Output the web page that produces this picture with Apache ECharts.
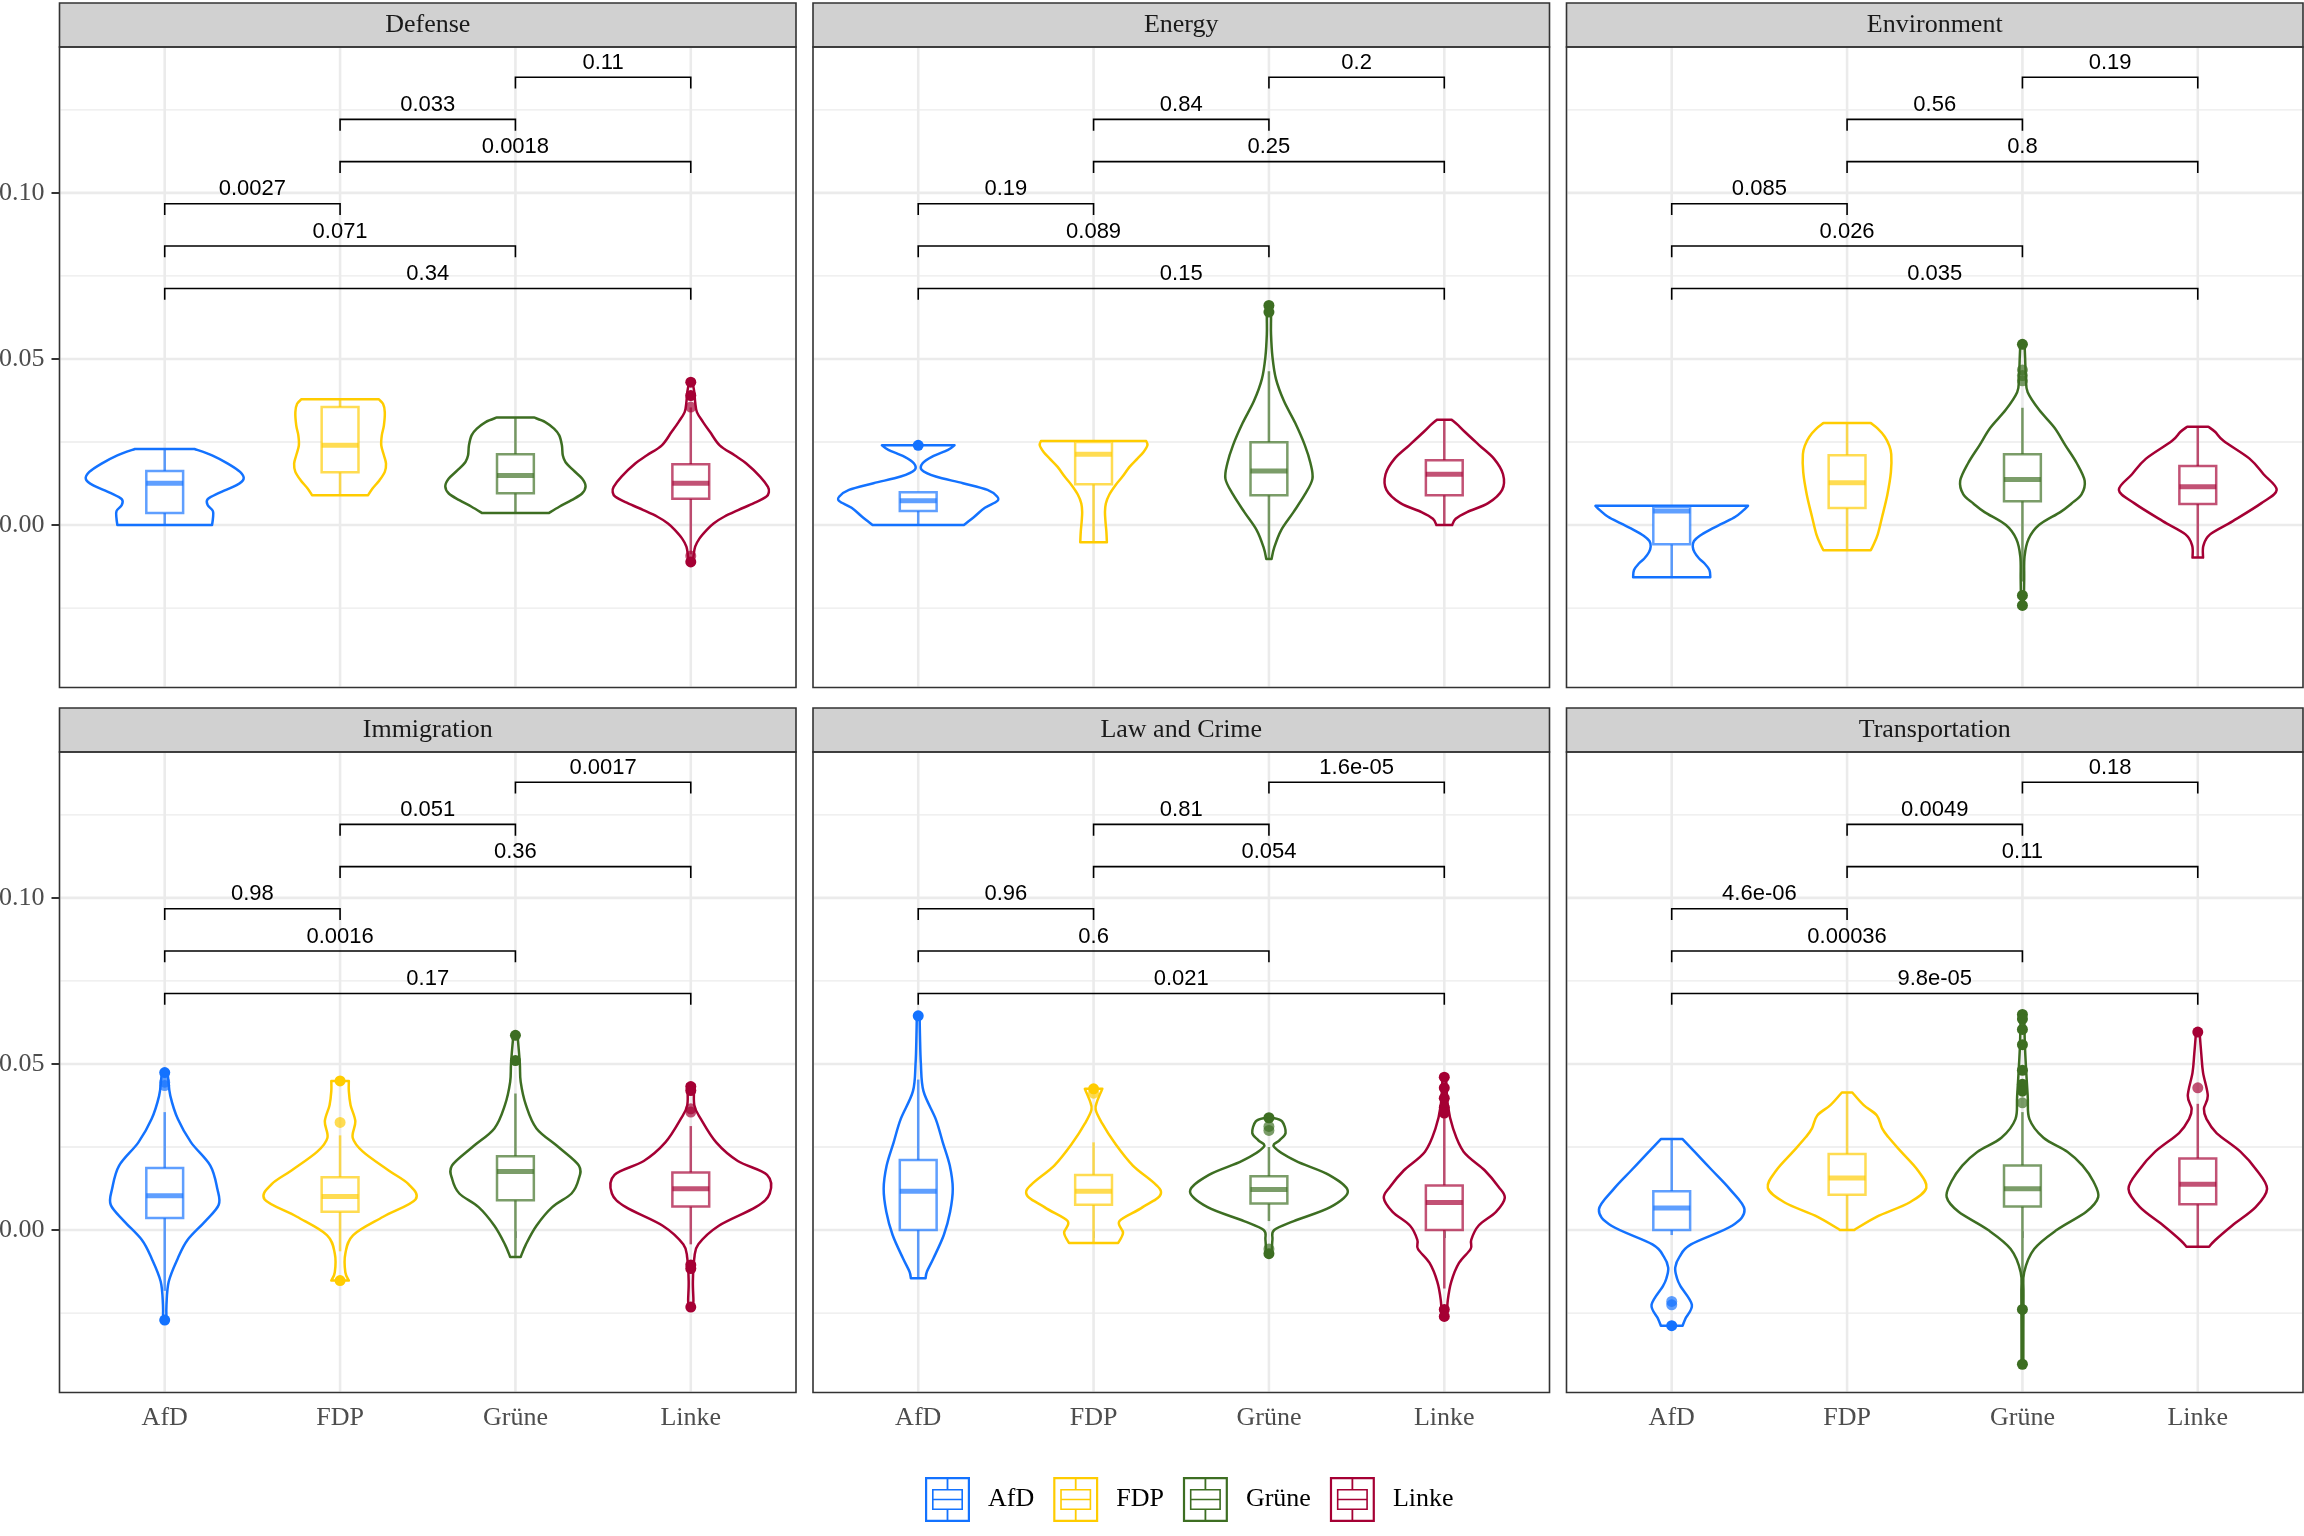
<!DOCTYPE html>
<html><head><meta charset="utf-8">
<script src="https://cdn.jsdelivr.net/npm/echarts@6/dist/echarts.min.js"></script>
<style>html,body{margin:0;padding:0;background:#fff}#c{width:2304px;height:1536px}</style>
</head><body><div id="c"></div>
<script>
// ---------------- DATA ----------------
const facets = ['Defense','Energy','Environment','Immigration','Law and Crime','Transportation'];
const parties = ['AfD','FDP','Grüne','Linke'];
const partyPos = [1,2,3,4];
const yLabelTicks = [0, 0.05, 0.10];
const yMinorTicks = [-0.025, 0.025, 0.075, 0.125];
const bracketPairs = [[3,4],[2,3],[2,4],[1,2],[1,3],[1,4]];
const bracketLevels = [0.1348,0.1221,0.1094,0.0967,0.0840,0.0712];

const pDefense = ['0.11','0.033','0.0018','0.0027','0.071','0.34'];
const pEnergy = ['0.2','0.84','0.25','0.19','0.089','0.15'];
const pEnvironment = ['0.19','0.56','0.8','0.085','0.026','0.035'];
const pImmigration = ['0.0017','0.051','0.36','0.98','0.0016','0.17'];
const pLawCrime = ['1.6e-05','0.81','0.054','0.96','0.6','0.021'];
const pTransportation = ['0.18','0.0049','0.11','4.6e-06','0.00036','9.8e-05'];

// violin outlines: [value, half-width in category units], top to bottom
const violinDefense = [
  [[0.0229,0.17],[0.021,0.27],[0.0185,0.36],[0.016,0.43],[0.0139,0.45],[0.012,0.41],[0.0097,0.31],[0.0078,0.245],[0.006,0.245],[0.0042,0.275],[0.002,0.275],[0.0,0.27]],
  [[0.0379,0.22],[0.0365,0.245],[0.034,0.255],[0.030,0.25],[0.027,0.238],[0.024,0.235],[0.021,0.25],[0.0185,0.262],[0.016,0.255],[0.0135,0.225],[0.011,0.185],[0.009,0.16]],
  [[0.0324,0.105],[0.031,0.17],[0.029,0.22],[0.027,0.25],[0.024,0.265],[0.021,0.27],[0.019,0.285],[0.0165,0.33],[0.014,0.38],[0.0117,0.4],[0.0095,0.38],[0.0075,0.32],[0.0055,0.25],[0.0036,0.19]],
  [[0.043,0.01],[0.040,0.02],[0.037,0.025],[0.034,0.035],[0.031,0.07],[0.028,0.11],[0.024,0.165],[0.021,0.25],[0.0186,0.315],[0.0146,0.395],[0.0115,0.44],[0.0099,0.445],[0.0085,0.43],[0.0066,0.36],[0.0045,0.27],[0.0025,0.19],[0.0005,0.13],[-0.0015,0.09],[-0.004,0.05],[-0.0065,0.025],[-0.0095,0.015],[-0.0111,0.01]]
];
const violinEnergy = [
  [[0.024,0.207],[0.0226,0.17],[0.0206,0.08],[0.0186,0.025],[0.0166,0.02],[0.0146,0.1],[0.0126,0.255],[0.0106,0.395],[0.0086,0.45],[0.0072,0.45],[0.0052,0.38],[0.0025,0.32],[0.0,0.26]],
  [[0.0253,0.3],[0.024,0.307],[0.022,0.285],[0.020,0.25],[0.0175,0.205],[0.0146,0.165],[0.012,0.125],[0.0092,0.09],[0.0065,0.07],[0.0039,0.065],[0.001,0.068],[-0.002,0.073],[-0.0052,0.076]],
  [[0.0661,0.012],[0.062,0.012],[0.0574,0.012],[0.0507,0.02],[0.044,0.04],[0.0374,0.085],[0.0307,0.15],[0.024,0.205],[0.0186,0.237],[0.0139,0.248],[0.0092,0.205],[0.0039,0.14],[-0.0015,0.07],[-0.0068,0.03],[-0.0102,0.015]],
  [[0.0317,0.042],[0.030,0.08],[0.028,0.118],[0.024,0.2],[0.020,0.283],[0.0153,0.335],[0.0106,0.33],[0.0066,0.25],[0.0039,0.13],[0.0019,0.065],[0.0,0.045]]
];
const violinEnvironment = [
  [[0.0058,0.435],[0.0045,0.41],[0.0025,0.363],[0.0005,0.29],[-0.0015,0.215],[-0.0032,0.16],[-0.0048,0.127],[-0.0065,0.12],[-0.0082,0.13],[-0.01,0.155],[-0.0115,0.186],[-0.0135,0.215],[-0.0157,0.22]],
  [[0.0307,0.135],[0.029,0.175],[0.0266,0.215],[0.024,0.24],[0.0213,0.252],[0.0159,0.25],[0.0092,0.23],[0.0025,0.2],[-0.0028,0.175],[-0.006,0.15],[-0.0076,0.135]],
  [[0.0544,0.012],[0.0507,0.015],[0.044,0.02],[0.040,0.03],[0.0347,0.095],[0.0293,0.183],[0.024,0.245],[0.0186,0.31],[0.0133,0.355],[0.0092,0.337],[0.0065,0.28],[0.0039,0.216],[0.0,0.094],[-0.0042,0.035],[-0.0095,0.012],[-0.0162,0.01],[-0.0242,0.008]],
  [[0.0296,0.06],[0.028,0.1],[0.0253,0.148],[0.02,0.295],[0.0153,0.375],[0.0106,0.45],[0.0066,0.363],[0.0012,0.2],[-0.0028,0.07],[-0.0062,0.032],[-0.0098,0.03]]
];
const violinImmigration = [
  [[0.048,0.015],[0.0455,0.02],[0.0404,0.032],[0.0334,0.075],[0.0264,0.15],[0.0194,0.26],[0.0124,0.3],[0.0076,0.308],[0.0027,0.232],[-0.003,0.13],[-0.0085,0.075],[-0.0155,0.023],[-0.0225,0.01],[-0.0271,0.01]],
  [[0.0449,0.05],[0.0418,0.05],[0.0376,0.06],[0.0327,0.087],[0.0278,0.072],[0.0236,0.13],[0.018,0.275],[0.0138,0.39],[0.0092,0.43],[0.004,0.246],[-0.0015,0.075],[-0.0071,0.03],[-0.0127,0.03],[-0.0152,0.05]],
  [[0.0586,0.012],[0.0502,0.025],[0.0446,0.03],[0.0376,0.06],[0.0306,0.12],[0.025,0.245],[0.0194,0.362],[0.0152,0.36],[0.011,0.32],[0.0069,0.21],[0.0013,0.12],[-0.0043,0.06],[-0.0081,0.03]],
  [[0.0439,0.02],[0.0376,0.02],[0.0334,0.058],[0.0264,0.145],[0.0208,0.268],[0.0166,0.435],[0.011,0.45],[0.0069,0.37],[0.0013,0.16],[-0.0043,0.043],[-0.0085,0.02],[-0.0155,0.012],[-0.0211,0.015],[-0.0232,0.012]]
];
const violinLawCrime = [
  [[0.0645,0.008],[0.0586,0.01],[0.0502,0.015],[0.0418,0.03],[0.0334,0.1],[0.0264,0.14],[0.0194,0.18],[0.0124,0.197],[0.0055,0.182],[-0.0015,0.146],[-0.0085,0.087],[-0.0125,0.05],[-0.0145,0.042]],
  [[0.0425,0.05],[0.039,0.022],[0.0362,0.012],[0.032,0.05],[0.0264,0.118],[0.0194,0.224],[0.0117,0.384],[0.0069,0.28],[0.0027,0.148],[-0.0008,0.168],[-0.0039,0.14]],
  [[0.0338,0.02],[0.0327,0.075],[0.0292,0.095],[0.027,0.06],[0.025,0.03],[0.0208,0.153],[0.0166,0.342],[0.0117,0.45],[0.0069,0.35],[0.0027,0.142],[0.0,0.03],[-0.0029,0.02],[-0.0078,0.015]],
  [[0.046,0.01],[0.0376,0.02],[0.0306,0.05],[0.0236,0.11],[0.018,0.23],[0.0131,0.308],[0.0097,0.345],[0.0055,0.295],[0.0013,0.195],[-0.0029,0.154],[-0.0057,0.15],[-0.0099,0.084],[-0.0155,0.04],[-0.0211,0.02],[-0.026,0.015]]
];
const violinTransportation = [
  [[0.0274,0.062],[0.0236,0.13],[0.018,0.23],[0.0124,0.33],[0.0062,0.415],[0.0013,0.344],[-0.0043,0.11],[-0.008,0.045],[-0.0113,0.02],[-0.0145,0.03],[-0.0169,0.05],[-0.0225,0.115],[-0.0267,0.078],[-0.0288,0.062]],
  [[0.0414,0.03],[0.0376,0.095],[0.0345,0.17],[0.0306,0.2],[0.028,0.235],[0.0236,0.308],[0.018,0.403],[0.0127,0.452],[0.0083,0.356],[0.004,0.168],[0.0,0.04]],
  [[0.0649,0.01],[0.0544,0.015],[0.0404,0.03],[0.0334,0.04],[0.0278,0.12],[0.0236,0.256],[0.0194,0.343],[0.0146,0.405],[0.0099,0.432],[0.0055,0.364],[0.0,0.195],[-0.0057,0.067],[-0.0127,0.01],[-0.0197,0.006],[-0.0404,0.005]],
  [[0.0596,0.01],[0.053,0.02],[0.0474,0.03],[0.0404,0.057],[0.0365,0.035],[0.0334,0.05],[0.0292,0.107],[0.0236,0.243],[0.018,0.336],[0.0124,0.395],[0.0069,0.33],[0.0013,0.195],[-0.003,0.1],[-0.005,0.065]]
];

// box stats: [lower whisker, Q1, median, Q3, upper whisker]
const boxDefense = [[0.0,0.0036,0.0126,0.0163,0.0229],[0.009,0.0159,0.024,0.0355,0.0379],[0.0036,0.0096,0.0149,0.0213,0.0324],[-0.0088,0.0079,0.0126,0.0183,0.0354]];
const boxEnergy = [[0.0,0.0042,0.0073,0.0099,0.0099],[-0.0052,0.0123,0.0213,0.025,0.0253],[-0.0102,0.009,0.0163,0.0249,0.0463],[0.0,0.009,0.0153,0.0195,0.0317]];
const boxEnvironment = [[-0.0157,-0.0058,0.0042,0.0055,0.0058],[-0.0076,0.0051,0.0127,0.021,0.0307],[-0.017,0.0072,0.0137,0.0213,0.0353],[-0.0098,0.0063,0.0115,0.0178,0.0296]];
const boxImmigration = [[-0.0183,0.0036,0.0103,0.0187,0.0355],[-0.0064,0.0055,0.0101,0.0159,0.0285],[-0.0081,0.009,0.0176,0.0222,0.0411],[-0.0043,0.0071,0.0124,0.0173,0.0313]];
const boxLawCrime = [[-0.0145,0.0,0.0117,0.0211,0.0453],[-0.0039,0.0076,0.0117,0.0166,0.0264],[0.0027,0.008,0.0122,0.0162,0.025],[-0.0176,0.0,0.0083,0.0134,0.0348]];
const boxTransportation = [[-0.0015,0.0,0.0066,0.0117,0.0274],[0.0,0.0106,0.0157,0.0229,0.0414],[-0.0148,0.0071,0.0124,0.0194,0.0355],[-0.005,0.0078,0.0138,0.0215,0.038]];

// outliers (solid) and lighter outliers
const outDefense = [[],[],[],[0.043,0.039,-0.0111]];
const lightDefense = [[],[],[],[0.0355,-0.0093]];
const outEnergy = [[0.024],[],[0.0661,0.0641],[]];
const lightEnergy = [[],[],[],[]];
const outEnvironment = [[],[],[0.0544,-0.0212,-0.0242],[]];
const lightEnvironment = [[],[],[0.0467,0.0434,0.045],[]];
const outImmigration = [[0.0474,-0.0271],[0.0449,-0.0152],[0.0586,0.051],[0.0432,0.042,-0.0232,-0.0116,-0.0105]];
const lightImmigration = [[0.0435,0.0445],[0.0324],[],[0.0365,0.0355]];
const outLawCrime = [[0.0645],[0.0425],[0.0338,-0.0071],[0.046,0.0428,0.0397,0.0369,0.0352,-0.0239,-0.026]];
const lightLawCrime = [[],[0.0412],[0.030,0.0312,-0.0057],[]];
const outTransportation = [[-0.0288],[],[0.0649,0.0635,0.0604,0.0558,0.0481,0.0439,0.0418,-0.0239,-0.0404],[0.0596]];
const lightTransportation = [[-0.0215,-0.0225],[],[0.0383],[0.0428]];

const pValues = [pDefense,pEnergy,pEnvironment,pImmigration,pLawCrime,pTransportation];
const violins = [violinDefense,violinEnergy,violinEnvironment,violinImmigration,violinLawCrime,violinTransportation];
const boxes = [boxDefense,boxEnergy,boxEnvironment,boxImmigration,boxLawCrime,boxTransportation];
const outliers = [outDefense,outEnergy,outEnvironment,outImmigration,outLawCrime,outTransportation];
const lightOutliers = [lightDefense,lightEnergy,lightEnvironment,lightImmigration,lightLawCrime,lightTransportation];

// ---------------- STYLE / LAYOUT ----------------
const LINE = ['#1372FF','#FFCC00','#3D6E22','#A50034'];
const BOX = ['rgba(19,114,255,0.68)','rgba(255,204,0,0.68)','rgba(61,110,34,0.68)','rgba(165,0,52,0.68)'];
const SERIF = '"Liberation Serif", "DejaVu Serif", serif';
const SANS = '"Liberation Sans", Arial, sans-serif';
const colLeft = [59.5, 813, 1566.5];
const rowTop = [47, 752];
const panelW = 736.5, panelH = 640.5, stripH = 44;
const Y_MIN = -0.0489, Y_MAX = 0.1439;
const BOX_HALF = 0.105, TIP = 0.0034;

function smooth(pts) {
  let d = '';
  for (let k = 0; k < pts.length - 1; k++) {
    const p0 = pts[k-1] || pts[k], p1 = pts[k], p2 = pts[k+1], p3 = pts[k+2] || pts[k+1];
    const c1 = [p1[0] + (p2[0]-p0[0])/6, p1[1] + (p2[1]-p0[1])/6];
    const c2 = [p2[0] - (p3[0]-p1[0])/6, p2[1] - (p3[1]-p1[1])/6];
    d += 'C' + c1[0] + ',' + c1[1] + ' ' + c2[0] + ',' + c2[1] + ' ' + p2[0] + ',' + p2[1];
  }
  return d;
}

function partyRenderer(f, j) {
  return function (params, api) {
    const x = api.value(0);
    const knots = violins[f][j];
    const right = knots.map(k => api.coord([x + k[1], k[0]]));
    const left = knots.map(k => api.coord([x - k[1], k[0]])).reverse();
    const tl = left[left.length-1];
    let d = 'M' + tl[0] + ',' + tl[1] + 'L' + right[0][0] + ',' + right[0][1];
    d += smooth(right);
    d += 'L' + left[0][0] + ',' + left[0][1];
    d += smooth(left);
    d += 'Z';
    const ch = [{type:'path', shape:{pathData:d}, style:{fill:'none', stroke:LINE[j], lineWidth:2.5, lineJoin:'round'}}];
    const b = boxes[f][j];
    const cx = api.coord([x, 0])[0];
    const yWl = api.coord([x, b[0]])[1], yQ1 = api.coord([x, b[1]])[1], yMed = api.coord([x, b[2]])[1],
          yQ3 = api.coord([x, b[3]])[1], yWh = api.coord([x, b[4]])[1];
    const xl = api.coord([x - BOX_HALF, 0])[0], xr = api.coord([x + BOX_HALF, 0])[0];
    if (b[4] > b[3]) ch.push({type:'line', shape:{x1:cx, y1:yQ3, x2:cx, y2:yWh}, style:{stroke:BOX[j], lineWidth:2.5}});
    if (b[0] < b[1]) ch.push({type:'line', shape:{x1:cx, y1:yQ1, x2:cx, y2:yWl}, style:{stroke:BOX[j], lineWidth:2.5}});
    ch.push({type:'rect', shape:{x:xl, y:yQ3, width:xr-xl, height:yQ1-yQ3}, style:{fill:'#fff', stroke:BOX[j], lineWidth:2.5}});
    ch.push({type:'line', shape:{x1:xl, y1:yMed, x2:xr, y2:yMed}, style:{stroke:BOX[j], lineWidth:5}});
    lightOutliers[f][j].forEach(v => {
      const p = api.coord([x, v]);
      ch.push({type:'circle', shape:{cx:p[0], cy:p[1], r:5.5}, style:{fill:BOX[j]}});
    });
    outliers[f][j].forEach(v => {
      const p = api.coord([x, v]);
      ch.push({type:'circle', shape:{cx:p[0], cy:p[1], r:5.5}, style:{fill:LINE[j]}});
    });
    return {type:'group', children:ch};
  };
}

function gridRenderer(params, api) {
  const cs = params.coordSys;
  const kind = api.value(2);
  if (kind === 2) {
    const px = api.coord([api.value(0), 0])[0];
    return {type:'line', shape:{x1:px, y1:cs.y+1, x2:px, y2:cs.y+cs.height-1}, style:{stroke:'#EBEBEB', lineWidth:2.6}};
  }
  const py = api.coord([1, api.value(1)])[1];
  return {type:'line', shape:{x1:cs.x+1, y1:py, x2:cs.x+cs.width-1, y2:py},
          style:{stroke:'#EBEBEB', lineWidth: kind === 1 ? 2.6 : 1.3}};
}

function bracketRenderer(f) {
  return function (params, api) {
    const a = api.value(0), b = api.value(1), lv = api.value(2);
    const pa = api.coord([a, lv]), pb = api.coord([b, lv]);
    const tipY = api.coord([a, lv - TIP])[1];
    return {type:'group', children:[
      {type:'polyline', shape:{points:[[pa[0],tipY],[pa[0],pa[1]],[pb[0],pb[1]],[pb[0],tipY]]},
       style:{stroke:'#000', lineWidth:1.6, fill:null}},
      {type:'text', x:(pa[0]+pb[0])/2, y:pa[1]-3.5,
       style:{text:pValues[f][params.dataIndex], font:'22px ' + SANS, fill:'#000',
              align:'center', verticalAlign:'bottom', textAlign:'center', textVerticalAlign:'bottom'}}
    ]};
  };
}

const grids = [], xAxes = [], yAxes = [], series = [], graphics = [];
facets.forEach((name, f) => {
  const c = f % 3, r = Math.floor(f / 3);
  grids.push({left:colLeft[c], top:rowTop[r], width:panelW, height:panelH, show:false,
              containLabel:false, outerBoundsMode:'none'});
  xAxes.push({type:'value', gridIndex:f, min:0.4, max:4.6,
    axisLine:{show:false}, splitLine:{show:false},
    axisTick:{show:r===1, customValues:partyPos, length:8, lineStyle:{color:'#333', width:2}},
    axisLabel:{show:r===1, customValues:partyPos, formatter:v => parties[Math.round(v)-1] || '',
      fontFamily:SERIF, fontSize:26, color:'#4D4D4D', margin:13}});
  yAxes.push({type:'value', gridIndex:f, min:Y_MIN, max:Y_MAX,
    axisLine:{show:false}, splitLine:{show:false},
    axisTick:{show:c===0, customValues:yLabelTicks, length:8, lineStyle:{color:'#333', width:2}},
    axisLabel:{show:c===0, customValues:yLabelTicks, formatter:v => v.toFixed(2),
      fontFamily:SERIF, fontSize:26, color:'#4D4D4D', margin:15}});
  const gridData = yLabelTicks.map(v => [1, v, 1])
    .concat(yMinorTicks.map(v => [1, v, 0]))
    .concat(partyPos.map(p => [p, 0, 2]));
  series.push({type:'custom', name:'grid', xAxisIndex:f, yAxisIndex:f, silent:true, z:1,
    encode:{x:0, y:1}, data:gridData, renderItem:gridRenderer});
  parties.forEach((p, j) => {
    series.push({type:'custom', name:p, xAxisIndex:f, yAxisIndex:f, z:2, silent:true,
      itemStyle:{color:LINE[j]}, encode:{x:0, y:1},
      data:[[partyPos[j], boxes[f][j][2]]], renderItem:partyRenderer(f, j)});
  });
  series.push({type:'custom', name:'brackets', xAxisIndex:f, yAxisIndex:f, z:3, silent:true,
    encode:{x:[0,1], y:2},
    data:bracketPairs.map((pr, k) => [pr[0], pr[1], bracketLevels[k]]), renderItem:bracketRenderer(f)});
  // strip + panel border
  const sx = colLeft[c], sy = rowTop[r] - stripH;
  graphics.push({type:'rect', z:100, shape:{x:sx, y:sy, width:panelW, height:stripH},
    style:{fill:'#D1D1D1', stroke:'#333', lineWidth:1.6}});
  graphics.push({type:'text', z:101, x:sx + panelW/2, y:sy + stripH/2,
    style:{text:name, font:'26px ' + SERIF, fill:'#1A1A1A', align:'center', verticalAlign:'middle',
           textAlign:'center', textVerticalAlign:'middle'}});
  graphics.push({type:'rect', z:100, shape:{x:sx, y:rowTop[r], width:panelW, height:panelH},
    style:{fill:'none', stroke:'#333', lineWidth:1.6}});
});

const legendIcon = 'path://M0,0H45V45H0Z M2.2,2.2V42.8H42.8V2.2Z M21.6,2.2H23.4V12H21.6Z M7,12H38V33H7Z M8.6,13.6V31.4H36.4V13.6Z M8.6,21.7H36.4V23.3H8.6Z M21.6,33H23.4V42.8H21.6Z';

const chart = echarts.init(document.getElementById('c'), null, {renderer:'canvas'});
chart.setOption({
  animation:false,
  backgroundColor:'#fff',
  grid:grids, xAxis:xAxes, yAxis:yAxes, series:series,
  graphic:{elements:graphics},
  legend:{data:parties, left:925, top:1477, padding:0, orient:'horizontal', itemWidth:45, itemHeight:45, itemGap:19,
    icon:legendIcon, itemStyle:{borderWidth:0},
    textStyle:{fontFamily:SERIF, fontSize:26, color:'#000', padding:[0,0,0,13]}}
});
</script></body></html>
